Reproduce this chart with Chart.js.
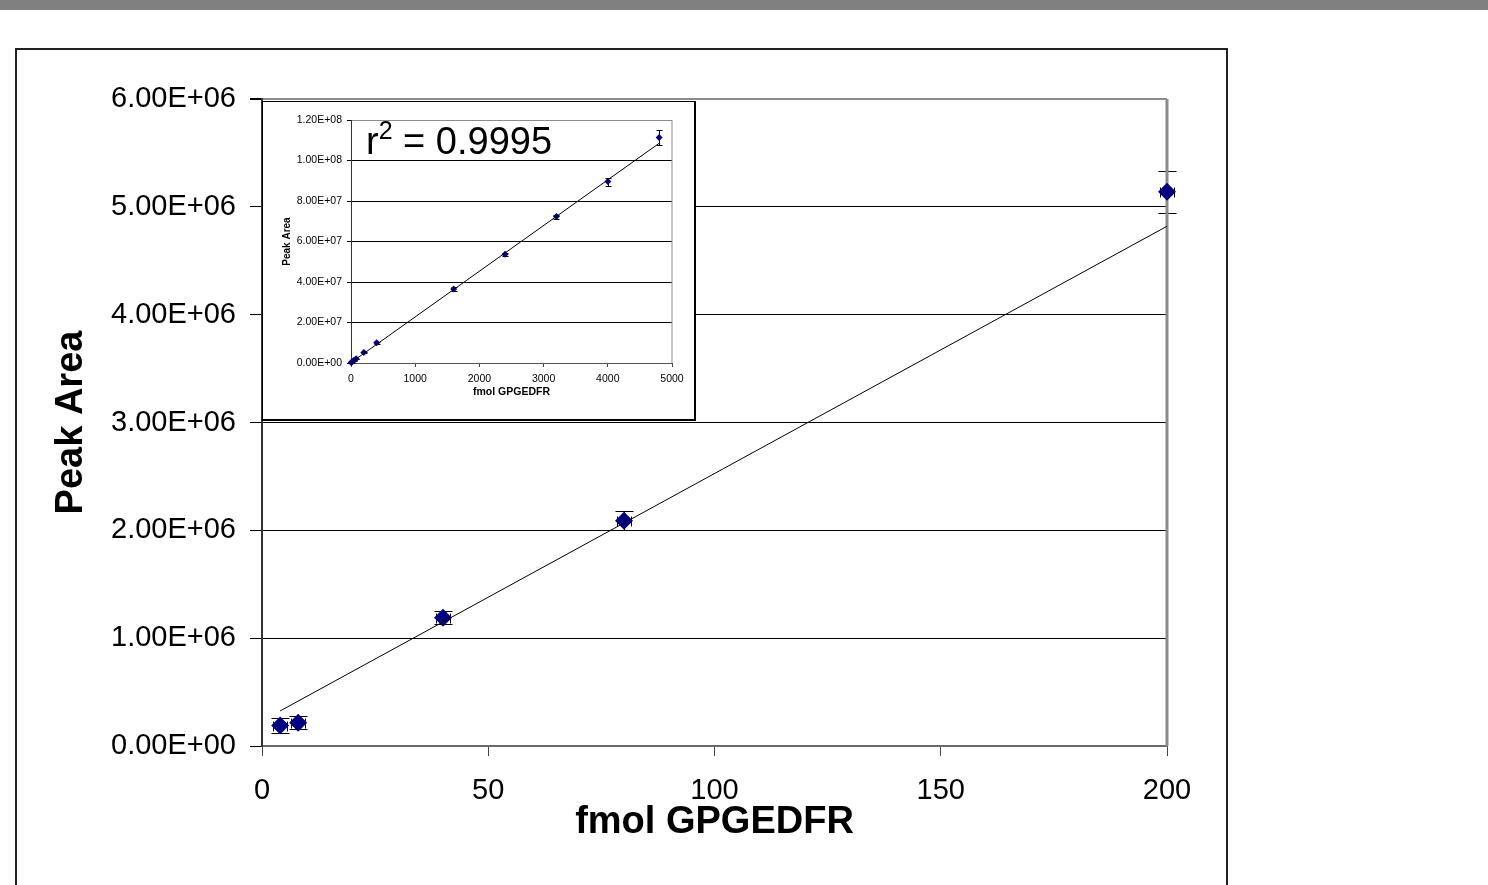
<!DOCTYPE html>
<html>
<head>
<meta charset="utf-8">
<script src="https://cdn.jsdelivr.net/npm/chart.js@4.4.1/dist/chart.umd.min.js"></script>
<style>
  html, body { margin: 0; padding: 0; background: #fff; overflow: hidden; }
  #topbar { position: absolute; left: 0; top: 0; width: 1488px; height: 10px; background: #808080; }
  #frame { position: absolute; left: 15px; top: 48px; width: 1213px; height: 900px; border: 2px solid #222; box-sizing: border-box; }
  #main { position: absolute; left: 0; top: 0; }
  #insetBox { position: absolute; left: 262px; top: 101px; width: 434px; height: 320px; box-sizing: border-box;
              border: 1px solid #000; border-right: 2px solid #000; border-bottom: 2px solid #000; background: #fff; }
  #inset { display: block; }
</style>
</head>
<body>
<div id="topbar"></div>
<div id="frame"></div>
<canvas id="main" width="1488" height="885"></canvas>
<div id="insetBox"><canvas id="inset" width="431" height="317"></canvas></div>
<script>
document.addEventListener("DOMContentLoaded", function () {

    // main chart data (fmol vs peak area)
    const fmol = [4, 8, 40, 80, 200];
    const peakArea = [190000, 215000, 1190000, 2090000, 5140000];
    const peakErr = [70000, 60000, 60000, 88000, 195000];
    const fmolErr = [1.5, 1.5, 1.5, 1.5, 1.5];
    const trendX = [4, 200];
    const trendY = [325000, 4820000];

    // inset data (full range)
    const insetFmol = [4, 8, 40, 80, 200, 400, 1600, 2400, 3200, 4000, 4800];
    const insetArea = [190000, 215000, 1190000, 2090000, 5140000, 10000000, 36600000, 53700000, 72300000, 89600000, 111400000];
    const insetErr = [70000, 60000, 60000, 88000, 195000, 600000, 900000, 800000, 1000000, 2000000, 3700000];
    const insetTrendX = [4, 4800];
    const insetTrendY = [300000, 108500000];
    const r2Text = '0.9995';

    const FONT = 'Liberation Sans, Arial, sans-serif';
    const NAVY = '#000080';

    // 6000000 -> "6.00E+06"
    function sci(v) {
        const parts = Number(v).toExponential(2).split('e');
        const sign = parts[1][0];
        let digits = parts[1].slice(1);
        if (digits.length < 2) digits = '0' + digits;
        return parts[0] + 'E' + sign + digits;
    }

    function toPoints(xs, ys) {
        return xs.map((x, i) => ({ x: x, y: ys[i] }));
    }

    // error bars, drawn under the markers
    function errorBars(xErr, yErr, capY, capX) {
        return {
            id: 'errorBars',
            beforeDatasetsDraw(chart) {
                const ctx = chart.ctx;
                const xs = chart.scales.x, ys = chart.scales.y;
                const data = chart.data.datasets[1].data;
                ctx.save();
                ctx.strokeStyle = '#000';
                ctx.lineWidth = 1;
                data.forEach((p, i) => {
                    const px = Math.round(xs.getPixelForValue(p.x)) + 0.5;
                    const top = Math.round(ys.getPixelForValue(p.y + yErr[i])) + 0.5;
                    const bot = Math.round(ys.getPixelForValue(p.y - yErr[i])) + 0.5;
                    const py = Math.round(ys.getPixelForValue(p.y)) + 0.5;
                    ctx.beginPath();
                    ctx.moveTo(px, top); ctx.lineTo(px, bot);
                    ctx.moveTo(px - capY, top); ctx.lineTo(px + capY, top);
                    ctx.moveTo(px - capY, bot); ctx.lineTo(px + capY, bot);
                    if (xErr) {
                        const l = Math.round(xs.getPixelForValue(p.x - xErr[i])) + 0.5;
                        const r = Math.round(xs.getPixelForValue(p.x + xErr[i])) + 0.5;
                        ctx.moveTo(l, py); ctx.lineTo(r, py);
                        ctx.moveTo(l, py - capX); ctx.lineTo(l, py + capX);
                        ctx.moveTo(r, py - capX); ctx.lineTo(r, py + capX);
                    }
                    ctx.stroke();
                });
                ctx.restore();
            }
        };
    }

    // gray plot border on the right side
    const rightBorder = {
        id: 'rightBorder',
        beforeDatasetsDraw(chart) {
            const a = chart.chartArea, ctx = chart.ctx;
            ctx.save();
            ctx.strokeStyle = '#8c8c8c';
            ctx.lineWidth = chart.canvas.id === 'main' ? 3 : 1;
            ctx.beginPath();
            ctx.moveTo(a.right, a.top);
            ctx.lineTo(a.right, a.bottom);
            ctx.stroke();
            ctx.restore();
        }
    };

    new Chart(document.getElementById('main'), {
        type: 'scatter',
        data: {
            datasets: [
                {
                    data: toPoints(trendX, trendY),
                    showLine: true, borderColor: '#000', borderWidth: 1,
                    pointRadius: 0, clip: false
                },
                {
                    data: toPoints(fmol, peakArea),
                    pointStyle: 'rectRot', pointRadius: 9,
                    backgroundColor: NAVY, borderColor: NAVY, borderWidth: 0, clip: false
                }
            ]
        },
        options: {
            responsive: false,
            animation: false,
            layout: { padding: { left: 0, top: 99, right: 321, bottom: 0 } },
            plugins: { legend: { display: false }, tooltip: { enabled: false } },
            scales: {
                x: {
                    type: 'linear', min: 0, max: 200,
                    ticks: { stepSize: 50, color: '#000', padding: 18, callback: v => String(v),
                             font: { family: FONT, size: 29 } },
                    grid: { drawOnChartArea: false, tickLength: 10, color: '#444', tickColor: '#444' },
                    border: { color: '#6a6a6a', width: 2 },
                    title: { display: true, text: 'fmol GPGEDFR', color: '#000',
                             font: { family: FONT, size: 38, weight: 'bold' }, padding: { top: 0, bottom: 40 } },
                    afterFit: s => { s.height = 139; }
                },
                y: {
                    min: 0, max: 6000000,
                    ticks: { stepSize: 1000000, color: '#000', padding: 14, callback: v => sci(v),
                             font: { family: FONT, size: 29 } },
                    grid: {
                        color: c => (c.tick && c.tick.value === 6000000) ? '#8c8c8c' : '#000',
                        lineWidth: c => (c.tick && c.tick.value === 6000000) ? 2 : 1,
                        tickLength: 12, tickColor: '#000'
                    },
                    border: { color: '#333', width: 2 },
                    title: { display: true, text: 'Peak Area', color: '#000',
                             font: { family: FONT, size: 38, weight: 'bold' }, padding: { top: 49, bottom: 0 } },
                    afterFit: s => { s.width = 262; }
                }
            }
        },
        plugins: [errorBars(fmolErr, peakErr, 9, 5), rightBorder]
    });

    // r squared label inside the inset
    const r2Label = {
        id: 'r2Label',
        afterDraw(chart) {
            const ctx = chart.ctx;
            let x = 103, y = 52;
            ctx.save();
            ctx.fillStyle = '#000';
            ctx.textBaseline = 'alphabetic';
            ctx.font = '38px ' + FONT;
            ctx.fillText('r', x, y);
            x += ctx.measureText('r').width;
            ctx.font = '25px ' + FONT;
            ctx.fillText('2', x, y - 15);
            x += ctx.measureText('2').width;
            ctx.font = '38px ' + FONT;
            ctx.fillText(' = ' + r2Text, x, y);
            ctx.restore();
        }
    };

    new Chart(document.getElementById('inset'), {
        type: 'scatter',
        data: {
            datasets: [
                {
                    data: toPoints(insetTrendX, insetTrendY),
                    showLine: true, borderColor: '#000', borderWidth: 1,
                    pointRadius: 0, clip: false
                },
                {
                    data: toPoints(insetFmol, insetArea),
                    pointStyle: 'rectRot', pointRadius: 3.5,
                    backgroundColor: NAVY, borderColor: NAVY, borderWidth: 0, clip: false
                }
            ]
        },
        options: {
            responsive: false,
            animation: false,
            layout: { padding: { left: 0, top: 18, right: 22, bottom: 0 } },
            plugins: { legend: { display: false }, tooltip: { enabled: false } },
            scales: {
                x: {
                    type: 'linear', min: 0, max: 5000,
                    ticks: { stepSize: 1000, color: '#000', padding: 6, callback: v => String(v),
                             font: { family: FONT, size: 10.5 } },
                    grid: { drawOnChartArea: false, tickLength: 4, color: '#444', tickColor: '#444' },
                    border: { color: '#555', width: 1 },
                    title: { display: true, text: 'fmol GPGEDFR', color: '#000',
                             font: { family: FONT, size: 10.5, weight: 'bold' }, padding: { top: 0, bottom: 21 } },
                    afterFit: s => { s.height = 56; }
                },
                y: {
                    min: 0, max: 120000000,
                    ticks: { stepSize: 20000000, color: '#000', padding: 5, callback: v => sci(v),
                             font: { family: FONT, size: 10.5 } },
                    grid: {
                        color: c => (c.tick && c.tick.value === 120000000) ? '#8c8c8c' : '#000',
                        lineWidth: 1, tickLength: 4, tickColor: '#000'
                    },
                    border: { color: '#333', width: 1 },
                    title: { display: true, text: 'Peak Area', color: '#000',
                             font: { family: FONT, size: 10, weight: 'bold' }, padding: { top: 18, bottom: 0 } },
                    afterFit: s => { s.width = 88; }
                }
            }
        },
        plugins: [errorBars(null, insetErr, 3, 0), rightBorder, r2Label]
    });
});
</script>
</body>
</html>
